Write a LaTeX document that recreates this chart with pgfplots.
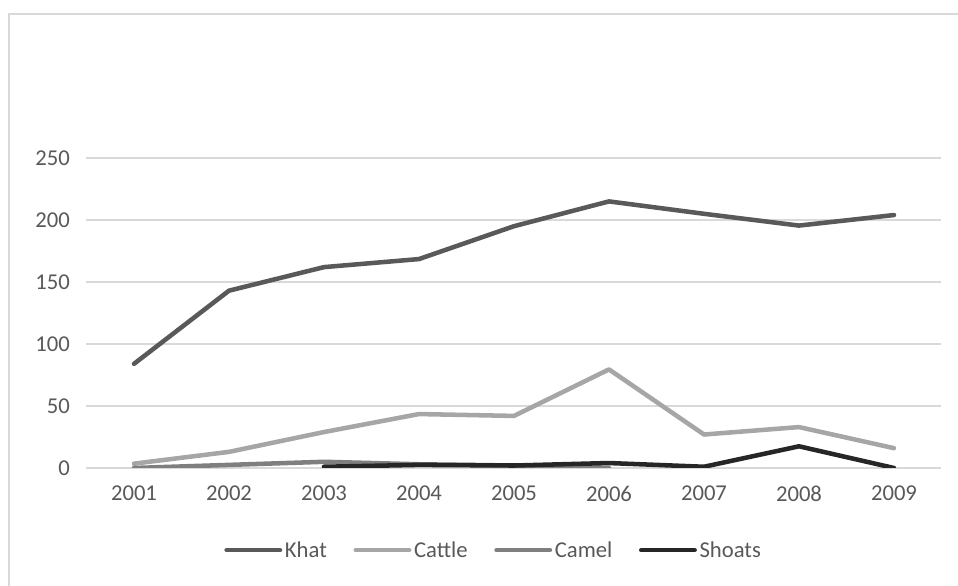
\documentclass[border=0pt]{standalone}
\usepackage{pgfplots}
\pgfplotsset{compat=1.18}
\usepackage{fontspec}
\setmainfont{Carlito}

\definecolor{khat}{HTML}{595959}
\definecolor{cattle}{HTML}{A6A6A6}
\definecolor{camel}{HTML}{7F7F7F}
\definecolor{shoats}{HTML}{262626}
\definecolor{gridc}{HTML}{D9D9D9}
\definecolor{txt}{HTML}{595959}

\begin{document}
\begin{tikzpicture}
% page = 958 x 586 px, 1px = 0.75pt
\useasboundingbox (0,0) rectangle (718.5pt,439.5pt);
\draw[gridc, line width=1.5pt] (6.75pt,-2pt) -- (6.75pt,429pt) -- (722pt,429pt);

\begin{axis}[
    at={(64.875pt,88.5pt)}, anchor=south west,
    scale only axis,
    width=641.25pt, height=232.5pt,
    xmin=-0.5, xmax=8.5,
    ymin=0, ymax=250,
    xtick={0,...,8},
    xticklabels={2001,2002,2003,2004,2005,2006,2007,2008,2009},
    ytick={0,50,100,150,200,250},
    axis line style={draw=none},
    major tick length=0pt,
    ymajorgrids,
    grid style={gridc, line width=0.9pt},
    tick label style={font=\fontsize{17}{20}\selectfont, text=txt},
    /pgf/number format/assume math mode=true,
    yticklabel style={xshift=-9pt},
    xticklabel style={yshift=-10pt},
    legend columns=4,
    legend style={draw=none, at={(0.5,-0.265)}, anchor=center, xshift=-15pt,
        font=\fontsize{17}{20}\selectfont, text=txt,
        /tikz/every even column/.append style={column sep=18pt}},
    legend image code/.code={\draw[#1, line cap=round] (0pt,0pt) -- (40pt,0pt);},
    every axis plot/.append style={line width=3.4pt, line join=round, line cap=round},
]
\addplot[khat] coordinates {(0,84) (1,143) (2,162) (3,168.5) (4,195) (5,215) (6,205) (7,195.5) (8,204)};
\addlegendentry{Khat}
\addplot[cattle] coordinates {(0,3.5) (1,13) (2,29) (3,43.5) (4,42) (5,79.5) (6,27) (7,33) (8,16)};
\addlegendentry{Cattle}
\addplot[camel] coordinates {(0,0) (1,2.5) (2,5) (3,3) (4,2) (5,0)};
\addlegendentry{Camel}
\addplot[shoats] coordinates {(2,1) (3,2.5) (4,2) (5,4) (6,1) (7,17.5) (8,0)};
\addlegendentry{Shoats}
\end{axis}
\end{tikzpicture}
\end{document}
